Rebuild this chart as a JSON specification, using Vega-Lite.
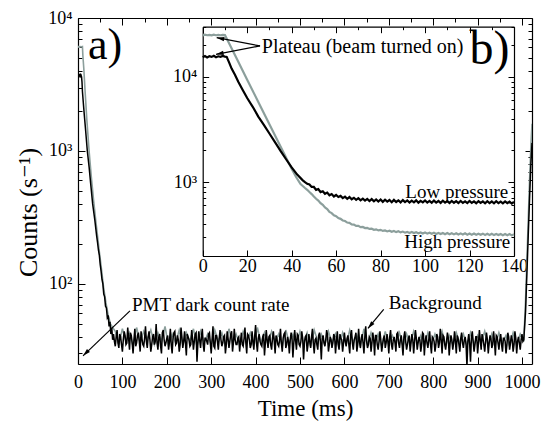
{
"$schema":"https://vega.github.io/schema/vega-lite/v6.json",
"width":454,"height":346,
"autosize":"none",
"padding":{"left":78,"top":18,"right":12,"bottom":60},
"background":"white",
"config":{"view":{"stroke":null},"font":"Liberation Serif, Times New Roman, Times, DejaVu Serif, serif",
"axis":{"labelFont":"Liberation Serif, Times New Roman, Times, DejaVu Serif, serif","titleFont":"Liberation Serif, Times New Roman, Times, DejaVu Serif, serif","labelFontSize":18,"titleFontSize":23,"labelColor":"black","titleColor":"black","titleFontWeight":"normal","domainColor":"black","tickColor":"black","domainWidth":1.2,"tickWidth":1,"grid":false,"labelFlush":false,"labelOverlap":false,"labelBound":false,"zindex":1},
"text":{"font":"Liberation Serif, Times New Roman, Times, DejaVu Serif, serif","color":"black"}},
"datasets":{
"mainH":[{"t":0,"c":6000},{"t":2,"c":6100},{"t":4,"c":6050},{"t":6,"c":6100},{"t":8,"c":6080},{"t":10,"c":6100},{"t":11,"c":5200},{"t":13,"c":4200},{"t":16,"c":2800},{"t":20,"c":1700},{"t":25,"c":1000},{"t":30,"c":640},{"t":35,"c":430},{"t":40,"c":300},{"t":45,"c":215},{"t":48,"c":175},{"t":50,"c":155},{"t":53,"c":128},{"t":55,"c":112},{"t":58,"c":92},{"t":60,"c":84},{"t":63,"c":72},{"t":65,"c":66},{"t":68,"c":58},{"t":70,"c":55},{"t":73,"c":50},{"t":75,"c":49},{"t":78,"c":47},
{"t":84,"c":44},{"t":92,"c":35},{"t":100,"c":46},{"t":108,"c":37},{"t":116,"c":43},{"t":124,"c":34},{"t":132,"c":47},{"t":140,"c":36},{"t":148,"c":44},{"t":156,"c":38},
{"t":164,"c":45},{"t":172,"c":35},{"t":180,"c":43},{"t":188,"c":37},{"t":196,"c":48},{"t":204,"c":34},{"t":212,"c":42},{"t":220,"c":36},{"t":228,"c":45},{"t":236,"c":35},
{"t":244,"c":43},{"t":252,"c":37},{"t":260,"c":46},{"t":268,"c":34},{"t":276,"c":44},{"t":284,"c":36},{"t":292,"c":42},{"t":300,"c":35},{"t":308,"c":45},{"t":316,"c":37},
{"t":324,"c":43},{"t":332,"c":34},{"t":340,"c":46},{"t":348,"c":36},{"t":356,"c":42},{"t":364,"c":35},{"t":372,"c":44},{"t":380,"c":37},{"t":388,"c":43},{"t":396,"c":34},
{"t":404,"c":47},{"t":412,"c":36},{"t":420,"c":43},{"t":428,"c":35},{"t":436,"c":44},{"t":444,"c":37},{"t":452,"c":42},{"t":460,"c":34},{"t":468,"c":45},{"t":476,"c":36},
{"t":484,"c":42},{"t":492,"c":35},{"t":500,"c":44},{"t":508,"c":36},{"t":516,"c":43},{"t":524,"c":34},{"t":532,"c":45},{"t":540,"c":37},{"t":548,"c":42},{"t":556,"c":35},
{"t":564,"c":44},{"t":572,"c":36},{"t":580,"c":42},{"t":588,"c":34},{"t":596,"c":43},{"t":604,"c":35},{"t":612,"c":45},{"t":620,"c":36},{"t":628,"c":41},{"t":636,"c":34},
{"t":644,"c":46},{"t":652,"c":35},{"t":660,"c":43},{"t":668,"c":36},{"t":676,"c":42},{"t":684,"c":34},{"t":692,"c":44},{"t":700,"c":35},{"t":708,"c":41},{"t":716,"c":36},
{"t":724,"c":43},{"t":732,"c":34},{"t":740,"c":42},{"t":748,"c":35},{"t":756,"c":44},{"t":764,"c":36},{"t":772,"c":41},{"t":780,"c":34},{"t":788,"c":43},{"t":796,"c":35},
{"t":804,"c":42},{"t":812,"c":36},{"t":820,"c":44},{"t":828,"c":34},{"t":836,"c":41},{"t":844,"c":35},{"t":852,"c":43},{"t":860,"c":36},{"t":868,"c":42},{"t":876,"c":34},
{"t":884,"c":43},{"t":892,"c":35},{"t":900,"c":41},{"t":908,"c":36},{"t":916,"c":44},{"t":924,"c":34},{"t":932,"c":42},{"t":940,"c":35},{"t":948,"c":43},{"t":956,"c":36},
{"t":964,"c":41},{"t":972,"c":34},{"t":980,"c":43},{"t":988,"c":35},{"t":996,"c":42},{"t":1004,"c":37},
{"t":1008,"c":75},{"t":1011,"c":150},{"t":1014,"c":300},{"t":1017,"c":600},{"t":1020,"c":1100},{"t":1022.5,"c":1600}],
"mainL":[{"t":0,"c":3450},{"t":1,"c":3700},{"t":2,"c":3650},{"t":3,"c":3800},{"t":4,"c":3700},{"t":5,"c":3750},{"t":6,"c":3650},{"t":7,"c":3700},{"t":8,"c":3600},{"t":9,"c":3300},{"t":10,"c":2800},{"t":12,"c":2300},{"t":14,"c":1900},{"t":17,"c":1450},{"t":21,"c":1000},{"t":25,"c":760},{"t":28.5,"c":570},{"t":33,"c":400},{"t":38,"c":300},{"t":42,"c":230},{"t":44,"c":205},{"t":46,"c":180},{"t":48,"c":165},{"t":50,"c":140},{"t":52,"c":125},{"t":54,"c":108},{"t":56,"c":100},{"t":58,"c":84},{"t":60,"c":80},{"t":62,"c":68},{"t":64,"c":66},{"t":66,"c":56},{"t":68,"c":58},{"t":70,"c":48},{"t":72,"c":52},{"t":74,"c":42},{"t":76,"c":47},{"t":78,"c":38},
{"t":80,"c":42},{"t":84,"c":34},{"t":88,"c":45},{"t":92,"c":33},{"t":96,"c":40},{"t":100,"c":31},{"t":104,"c":44},{"t":108,"c":35},{"t":112,"c":47},{"t":116,"c":32},
{"t":120,"c":41},{"t":124,"c":30},{"t":128,"c":46},{"t":132,"c":36},{"t":136,"c":43},{"t":140,"c":31},{"t":144,"c":39},{"t":148,"c":34},{"t":152,"c":48},{"t":156,"c":33},
{"t":160,"c":44},{"t":164,"c":31},{"t":168,"c":40},{"t":172,"c":35},{"t":176,"c":50},{"t":180,"c":32},{"t":184,"c":42},{"t":188,"c":30},{"t":192,"c":45},{"t":196,"c":34},
{"t":200,"c":39},{"t":204,"c":32},{"t":208,"c":46},{"t":212,"c":30},{"t":216,"c":43},{"t":220,"c":35},{"t":224,"c":41},{"t":228,"c":31},{"t":232,"c":47},{"t":236,"c":33},
{"t":240,"c":44},{"t":244,"c":29},{"t":248,"c":40},{"t":252,"c":34},{"t":256,"c":45},{"t":260,"c":32},{"t":264,"c":42},{"t":268,"c":26},{"t":272,"c":44},{"t":276,"c":33},
{"t":280,"c":46},{"t":284,"c":31},{"t":288,"c":39},{"t":292,"c":35},{"t":296,"c":43},{"t":300,"c":30},{"t":304,"c":48},{"t":308,"c":33},{"t":312,"c":41},{"t":316,"c":32},
{"t":320,"c":45},{"t":324,"c":34},{"t":328,"c":40},{"t":332,"c":30},{"t":336,"c":44},{"t":340,"c":33},{"t":344,"c":42},{"t":348,"c":31},{"t":352,"c":46},{"t":356,"c":35},
{"t":360,"c":39},{"t":364,"c":31},{"t":368,"c":43},{"t":372,"c":34},{"t":376,"c":47},{"t":380,"c":30},{"t":384,"c":41},{"t":388,"c":33},{"t":392,"c":44},{"t":396,"c":32},
{"t":400,"c":49},{"t":404,"c":31},{"t":408,"c":42},{"t":412,"c":35},{"t":416,"c":40},{"t":420,"c":29},{"t":424,"c":45},{"t":428,"c":33},{"t":432,"c":41},{"t":436,"c":32},
{"t":440,"c":44},{"t":444,"c":30},{"t":448,"c":39},{"t":452,"c":34},{"t":456,"c":46},{"t":460,"c":31},{"t":464,"c":42},{"t":468,"c":33},{"t":472,"c":40},{"t":476,"c":30},
{"t":480,"c":43},{"t":484,"c":28},{"t":488,"c":45},{"t":492,"c":32},{"t":496,"c":41},{"t":500,"c":34},{"t":504,"c":44},{"t":508,"c":27},{"t":512,"c":40},{"t":516,"c":31},
{"t":520,"c":42},{"t":524,"c":33},{"t":528,"c":46},{"t":532,"c":30},{"t":536,"c":39},{"t":540,"c":32},{"t":544,"c":43},{"t":548,"c":27},{"t":552,"c":41},{"t":556,"c":34},
{"t":560,"c":45},{"t":564,"c":31},{"t":568,"c":40},{"t":572,"c":33},{"t":576,"c":42},{"t":580,"c":30},{"t":584,"c":44},{"t":588,"c":32},{"t":592,"c":39},{"t":596,"c":31},
{"t":600,"c":43},{"t":604,"c":34},{"t":608,"c":41},{"t":612,"c":30},{"t":616,"c":45},{"t":620,"c":32},{"t":624,"c":40},{"t":628,"c":31},{"t":632,"c":46},{"t":636,"c":33},
{"t":640,"c":42},{"t":644,"c":30},{"t":648,"c":48},{"t":652,"c":33},{"t":656,"c":40},{"t":660,"c":31},{"t":664,"c":43},{"t":668,"c":29},{"t":672,"c":41},{"t":676,"c":32},
{"t":680,"c":44},{"t":684,"c":31},{"t":688,"c":39},{"t":692,"c":33},{"t":696,"c":42},{"t":700,"c":30},{"t":704,"c":45},{"t":708,"c":32},{"t":712,"c":40},{"t":716,"c":31},
{"t":720,"c":43},{"t":724,"c":33},{"t":728,"c":41},{"t":732,"c":29},{"t":736,"c":44},{"t":740,"c":32},{"t":744,"c":39},{"t":748,"c":31},{"t":752,"c":42},{"t":756,"c":30},
{"t":760,"c":45},{"t":764,"c":32},{"t":768,"c":40},{"t":772,"c":31},{"t":776,"c":43},{"t":780,"c":29},{"t":784,"c":41},{"t":788,"c":33},{"t":792,"c":44},{"t":796,"c":30},
{"t":800,"c":39},{"t":804,"c":31},{"t":808,"c":42},{"t":812,"c":33},{"t":816,"c":46},{"t":820,"c":30},{"t":824,"c":40},{"t":828,"c":32},{"t":832,"c":43},{"t":836,"c":29},
{"t":840,"c":41},{"t":844,"c":32},{"t":848,"c":44},{"t":852,"c":30},{"t":856,"c":39},{"t":860,"c":31},{"t":864,"c":43},{"t":868,"c":33},{"t":872,"c":40},{"t":876,"c":24},
{"t":880,"c":42},{"t":884,"c":26},{"t":888,"c":44},{"t":892,"c":31},{"t":896,"c":40},{"t":900,"c":30},{"t":904,"c":45},{"t":908,"c":32},{"t":912,"c":39},{"t":916,"c":31},
{"t":920,"c":43},{"t":924,"c":30},{"t":928,"c":41},{"t":932,"c":33},{"t":936,"c":44},{"t":940,"c":29},{"t":944,"c":40},{"t":948,"c":32},{"t":952,"c":42},{"t":956,"c":31},
{"t":960,"c":39},{"t":964,"c":30},{"t":968,"c":43},{"t":972,"c":32},{"t":976,"c":41},{"t":980,"c":31},{"t":984,"c":44},{"t":988,"c":30},{"t":992,"c":40},{"t":996,"c":32},
{"t":1000,"c":42},{"t":1004,"c":38},
{"t":1008,"c":62},{"t":1011,"c":120},{"t":1014,"c":230},{"t":1017,"c":440},{"t":1020,"c":800},{"t":1022.5,"c":1150},
{"t":82,"c":37},{"t":86,"c":40},{"t":90,"c":36},{"t":94,"c":42},{"t":98,"c":35},{"t":102,"c":38},{"t":106,"c":41},{"t":110,"c":36},{"t":114,"c":39},{"t":118,"c":43},
{"t":122,"c":36},{"t":126,"c":38},{"t":130,"c":34},{"t":134,"c":41},{"t":138,"c":37},{"t":142,"c":44},{"t":146,"c":35},{"t":150,"c":39},{"t":154,"c":37},{"t":158,"c":40},
{"t":162,"c":38},{"t":166,"c":35},{"t":170,"c":42},{"t":174,"c":37},{"t":178,"c":36},{"t":182,"c":40},{"t":186,"c":34},{"t":190,"c":43},{"t":194,"c":38},{"t":198,"c":36},
{"t":202,"c":41},{"t":206,"c":37},{"t":210,"c":35},{"t":214,"c":39},{"t":218,"c":44},{"t":222,"c":36},{"t":226,"c":38},{"t":230,"c":35},{"t":234,"c":40},{"t":238,"c":37},
{"t":242,"c":36},{"t":246,"c":42},{"t":250,"c":38},{"t":254,"c":35},{"t":258,"c":39},{"t":262,"c":37},{"t":266,"c":43},{"t":270,"c":36},{"t":274,"c":38},{"t":278,"c":40},
{"t":282,"c":35},{"t":286,"c":39},{"t":290,"c":37},{"t":294,"c":42},{"t":298,"c":36},{"t":302,"c":38},{"t":306,"c":34},{"t":310,"c":41},{"t":314,"c":37},{"t":318,"c":39},
{"t":322,"c":38},{"t":326,"c":36},{"t":330,"c":41},{"t":334,"c":35},{"t":338,"c":39},{"t":342,"c":37},{"t":346,"c":44},{"t":350,"c":36},{"t":354,"c":38},{"t":358,"c":35},
{"t":362,"c":40},{"t":366,"c":37},{"t":370,"c":35},{"t":374,"c":39},{"t":378,"c":36},{"t":382,"c":42},{"t":386,"c":38},{"t":390,"c":35},{"t":394,"c":37},{"t":398,"c":41},
{"t":402,"c":36},{"t":406,"c":39},{"t":410,"c":37},{"t":414,"c":34},{"t":418,"c":42},{"t":422,"c":36},{"t":426,"c":38},{"t":430,"c":40},{"t":434,"c":35},{"t":438,"c":39},
{"t":442,"c":37},{"t":446,"c":41},{"t":450,"c":35},{"t":454,"c":38},{"t":458,"c":36},{"t":462,"c":39},{"t":466,"c":43},{"t":470,"c":35},{"t":474,"c":37},{"t":478,"c":38},
{"t":482,"c":39},{"t":486,"c":36},{"t":490,"c":38},{"t":494,"c":42},{"t":498,"c":35},{"t":502,"c":37},{"t":506,"c":39},{"t":510,"c":36},{"t":514,"c":41},{"t":518,"c":35},
{"t":522,"c":37},{"t":526,"c":40},{"t":530,"c":36},{"t":534,"c":38},{"t":538,"c":35},{"t":542,"c":41},{"t":546,"c":37},{"t":550,"c":39},{"t":554,"c":36},{"t":558,"c":38},
{"t":562,"c":41},{"t":566,"c":35},{"t":570,"c":38},{"t":574,"c":36},{"t":578,"c":40},{"t":582,"c":37},{"t":586,"c":35},{"t":590,"c":42},{"t":594,"c":38},{"t":598,"c":36},
{"t":602,"c":37},{"t":606,"c":39},{"t":610,"c":35},{"t":614,"c":41},{"t":618,"c":36},{"t":622,"c":38},{"t":626,"c":43},{"t":630,"c":35},{"t":634,"c":37},{"t":638,"c":39},
{"t":642,"c":36},{"t":646,"c":40},{"t":650,"c":37},{"t":654,"c":35},{"t":658,"c":39},{"t":662,"c":36},{"t":666,"c":38},{"t":670,"c":41},{"t":674,"c":35},{"t":678,"c":37},
{"t":682,"c":38},{"t":686,"c":35},{"t":690,"c":41},{"t":694,"c":36},{"t":698,"c":37},{"t":702,"c":40},{"t":706,"c":35},{"t":710,"c":38},{"t":714,"c":36},{"t":718,"c":42},
{"t":722,"c":36},{"t":726,"c":38},{"t":730,"c":35},{"t":734,"c":40},{"t":738,"c":37},{"t":742,"c":35},{"t":746,"c":41},{"t":750,"c":36},{"t":754,"c":38},{"t":758,"c":37},
{"t":762,"c":39},{"t":766,"c":36},{"t":770,"c":38},{"t":774,"c":35},{"t":778,"c":42},{"t":782,"c":37},{"t":786,"c":36},{"t":790,"c":38},{"t":794,"c":35},{"t":798,"c":40},
{"t":802,"c":37},{"t":806,"c":35},{"t":810,"c":40},{"t":814,"c":36},{"t":818,"c":38},{"t":822,"c":41},{"t":826,"c":35},{"t":830,"c":37},{"t":834,"c":39},{"t":838,"c":36},
{"t":842,"c":38},{"t":846,"c":36},{"t":850,"c":37},{"t":854,"c":41},{"t":858,"c":35},{"t":862,"c":39},{"t":866,"c":36},{"t":870,"c":38},{"t":874,"c":35},{"t":878,"c":37},
{"t":882,"c":36},{"t":886,"c":39},{"t":890,"c":37},{"t":894,"c":35},{"t":898,"c":40},{"t":902,"c":36},{"t":906,"c":38},{"t":910,"c":42},{"t":914,"c":35},{"t":918,"c":37},
{"t":922,"c":38},{"t":926,"c":36},{"t":930,"c":39},{"t":934,"c":35},{"t":938,"c":37},{"t":942,"c":41},{"t":946,"c":36},{"t":950,"c":38},{"t":954,"c":35},{"t":958,"c":39},
{"t":962,"c":37},{"t":966,"c":35},{"t":970,"c":40},{"t":974,"c":36},{"t":978,"c":38},{"t":982,"c":35},{"t":986,"c":39},{"t":990,"c":37},{"t":994,"c":36},{"t":998,"c":38},
{"t":1002,"c":37}],
"insetH":[{"t":0,"c":24800},{"t":1,"c":25200},{"t":2,"c":24900},{"t":3,"c":25100},{"t":4,"c":24800},{"t":5,"c":25200},{"t":6,"c":24900},{"t":7,"c":25100},{"t":8,"c":24900},{"t":9,"c":25100},{"t":10,"c":25000},{"t":15,"c":15350},{"t":20,"c":9420},{"t":25,"c":5780},{"t":30,"c":3550},{"t":35,"c":2180},{"t":40,"c":1340},{"t":42,"c":1120},{"t":44,"c":960},{"t":45,"c":920},{"t":46,"c":880},{"t":47,"c":845},{"t":48,"c":805},{"t":49,"c":770},{"t":50,"c":730},{"t":51,"c":695},{"t":52,"c":668},{"t":53,"c":632},{"t":54,"c":608},{"t":55,"c":575},{"t":56,"c":556},{"t":57,"c":522},{"t":58,"c":508},{"t":59,"c":485},{"t":60,"c":475},{"t":61,"c":456},{"t":62,"c":448},{"t":63,"c":432},{"t":64,"c":427},{"t":65,"c":413},{"t":66,"c":410},{"t":67,"c":397},{"t":68,"c":395},{"t":69,"c":384},{"t":70,"c":384},{"t":71,"c":374},{"t":72,"c":375},{"t":73,"c":366},{"t":74,"c":367},{"t":75,"c":359},{"t":76,"c":361},{"t":77,"c":353},{"t":78,"c":356},{"t":79,"c":348},{"t":80,"c":352},{"t":81,"c":344},{"t":82,"c":348},{"t":83,"c":340},{"t":84,"c":345},{"t":85,"c":337},{"t":86,"c":343},{"t":87,"c":335},{"t":88,"c":341},{"t":89,"c":333},{"t":90,"c":339},{"t":91,"c":331},{"t":92,"c":337},{"t":93,"c":329},{"t":94,"c":336},{"t":95,"c":328},{"t":96,"c":334},{"t":97,"c":327},{"t":98,"c":333},{"t":99,"c":325},{"t":100,"c":332},{"t":101,"c":324},{"t":102,"c":331},{"t":103,"c":323},{"t":104,"c":330},{"t":105,"c":322},{"t":106,"c":329},{"t":107,"c":321},{"t":108,"c":329},{"t":109,"c":320},{"t":110,"c":328},{"t":111,"c":320},{"t":112,"c":327},{"t":113,"c":319},{"t":114,"c":327},{"t":115,"c":318},{"t":116,"c":326},{"t":117,"c":318},{"t":118,"c":326},{"t":119,"c":317},{"t":120,"c":325},{"t":121,"c":317},{"t":122,"c":325},{"t":123,"c":316},{"t":124,"c":324},{"t":125,"c":316},{"t":126,"c":324},{"t":127,"c":315},{"t":128,"c":323},{"t":129,"c":315},{"t":130,"c":323},{"t":131,"c":314},{"t":132,"c":322},{"t":133,"c":314},{"t":134,"c":322},{"t":135,"c":313},{"t":136,"c":321},{"t":137,"c":313},{"t":138,"c":321},{"t":139,"c":312},{"t":140,"c":319}],
"insetL":[{"t":0,"c":15400},{"t":1,"c":15800},{"t":2,"c":15300},{"t":3,"c":15700},{"t":4,"c":15500},{"t":5,"c":15900},{"t":6,"c":15400},{"t":7,"c":15700},{"t":8,"c":15500},{"t":9,"c":15800},{"t":10,"c":15600},{"t":10.8,"c":15500},{"t":12,"c":13500},{"t":13,"c":12000},{"t":14.5,"c":10500},{"t":16,"c":9000},{"t":18,"c":7500},{"t":20,"c":6300},{"t":22.5,"c":5200},{"t":25,"c":4200},{"t":27.5,"c":3500},{"t":30,"c":2900},{"t":32.5,"c":2400},{"t":35,"c":1980},{"t":37.5,"c":1650},{"t":40,"c":1380},{"t":42.5,"c":1180},{"t":45,"c":1040},
{"t":46,"c":1000},{"t":47,"c":965},{"t":48,"c":950},{"t":49,"c":900},{"t":50,"c":900},{"t":51,"c":845},{"t":52,"c":860},{"t":53,"c":805},{"t":54,"c":820},{"t":55,"c":775},{"t":56,"c":795},{"t":57,"c":750},{"t":58,"c":770},{"t":59,"c":730},{"t":60,"c":755},{"t":61,"c":722},{"t":62,"c":740},{"t":63,"c":705},{"t":64,"c":728},{"t":65,"c":695},{"t":66,"c":722},{"t":67,"c":688},{"t":68,"c":710},{"t":69,"c":680},{"t":70,"c":705},{"t":71,"c":672},{"t":72,"c":698},{"t":73,"c":668},{"t":74,"c":694},{"t":75,"c":662},{"t":76,"c":690},{"t":77,"c":658},{"t":78,"c":686},{"t":79,"c":655},{"t":80,"c":684},{"t":81,"c":650},{"t":82,"c":680},{"t":83,"c":652},{"t":84,"c":676},{"t":85,"c":645},{"t":86,"c":678},{"t":87,"c":648},{"t":88,"c":672},{"t":89,"c":642},{"t":90,"c":675},{"t":91,"c":646},{"t":92,"c":670},{"t":93,"c":640},{"t":94,"c":668},{"t":95,"c":644},{"t":96,"c":672},{"t":97,"c":638},{"t":98,"c":665},{"t":99,"c":642},{"t":100,"c":670},{"t":101,"c":640},{"t":102,"c":664},{"t":103,"c":636},{"t":104,"c":668},{"t":105,"c":640},{"t":106,"c":662},{"t":107,"c":635},{"t":108,"c":666},{"t":109,"c":638},{"t":110,"c":660},{"t":111,"c":634},{"t":112,"c":664},{"t":113,"c":637},{"t":114,"c":660},{"t":115,"c":632},{"t":116,"c":662},{"t":117,"c":636},{"t":118,"c":658},{"t":119,"c":633},{"t":120,"c":663},{"t":121,"c":635},{"t":122,"c":657},{"t":123,"c":631},{"t":124,"c":660},{"t":125,"c":634},{"t":126,"c":656},{"t":127,"c":630},{"t":128,"c":659},{"t":129,"c":633},{"t":130,"c":655},{"t":131,"c":629},{"t":132,"c":658},{"t":133,"c":632},{"t":134,"c":654},{"t":135,"c":628},{"t":136,"c":657},{"t":137,"c":631},{"t":138,"c":653},{"t":139,"c":627},{"t":140,"c":650}],
"mainArrows":[{"t":117,"c":62.7,"g":1},{"t":11.3,"c":28.8,"g":1},{"t":688.5,"c":64.4,"g":2},{"t":653,"c":46.3,"g":2}],
"mainHeads":[{"t":11.3,"c":28.8,"a":226},{"t":653,"c":46.3,"a":220}],
"mainText":[{"t":22.5,"c":4890,"s":"a)","z":44},{"t":121.6,"c":62.7,"s":"PMT dark count rate","z":19},{"t":700,"c":64.4,"s":"Background","z":19}],
"insetArrows":[{"t":25.8,"c":19700,"g":1},{"t":6.3,"c":23600,"g":1},{"t":25.8,"c":19700,"g":2},{"t":6.0,"c":16400,"g":2}],
"insetHeads":[{"t":6.3,"c":23600,"a":281},{"t":6.0,"c":16400,"a":259}],
"insetText":[{"t":138,"c":13200,"s":"b)","z":48},{"t":137.4,"c":710,"s":"Low pressure","z":19},{"t":138.3,"c":237,"s":"High pressure","z":19}]
},
"layer":[
{"mark":{"type":"rule","strokeDash":[4,3],"color":"#555555","strokeWidth":1},
 "encoding":{
  "x":{"datum":0,"type":"quantitative","scale":{"domain":[0,1022.5],"nice":false},"axis":{"orient":"top","values":[0,50,100,150,200,250,300,350,400,450,500,550,600,650,700,750,800,850,900,950,1000],"labels":false,"title":null,"tickSize":{"condition":{"test":"datum.value % 100 === 0","value":-7},"value":-4}}},
  "x2":{"datum":1022.5},
  "y":{"datum":30,"type":"quantitative","scale":{"type":"log","domain":[25,10000],"nice":false},"axis":{"orient":"right","values":[30,40,50,60,70,80,90,100,200,300,400,500,600,700,800,900,1000,2000,3000,4000,5000,6000,7000,8000,9000,10000],"labels":false,"title":null,"tickSize":{"condition":{"test":"datum.value === 100 || datum.value === 1000 || datum.value === 10000","value":-7},"value":-4}}}
 }},
{"layer":[
 {"data":{"name":"mainH"},"mark":{"type":"line","color":"#8c9f9c","strokeWidth":1.6,"clip":true},
  "encoding":{
   "x":{"field":"t","type":"quantitative","scale":{"domain":[0,1022.5],"nice":false},"axis":{"orient":"bottom","values":[0,50,100,150,200,250,300,350,400,450,500,550,600,650,700,750,800,850,900,950,1000],"format":"d","labelExpr":"datum.value % 100 === 0 ? datum.label : ''","tickSize":{"condition":{"test":"datum.value % 100 === 0","value":-7},"value":-4},"labelPadding":16,"title":"Time (ms)","titleY":51,"titleBaseline":"alphabetic"}},
   "y":{"field":"c","type":"quantitative","scale":{"type":"log","domain":[25,10000],"nice":false},"axis":{"orient":"left","values":[30,40,50,60,70,80,90,100,200,300,400,500,600,700,800,900,1000,2000,3000,4000,5000,6000,7000,8000,9000,10000],"labelExpr":"datum.value === 100 ? '10²' : datum.value === 1000 ? '10³' : datum.value === 10000 ? '10⁴' : ''","tickSize":{"condition":{"test":"datum.value === 100 || datum.value === 1000 || datum.value === 10000","value":-7},"value":-4},"labelPadding":13,"title":"Counts (s⁻¹)","titleFontSize":26,"titleX":-42,"titleY":194,"titleBaseline":"alphabetic"}}
  }},
 {"data":{"name":"mainL"},"mark":{"type":"line","color":"black","strokeWidth":1.5,"clip":true},
  "encoding":{"x":{"field":"t","type":"quantitative"},"y":{"field":"c","type":"quantitative"}}},
 {"data":{"name":"mainArrows"},"mark":{"type":"line","color":"black","strokeWidth":1.2},
  "encoding":{"x":{"field":"t","type":"quantitative"},"y":{"field":"c","type":"quantitative"},"detail":{"field":"g","type":"nominal"}}},
 {"data":{"name":"mainHeads"},"mark":{"type":"point","shape":"M0,0L0.45,1.6L-0.45,1.6Z","filled":true,"color":"black","size":90,"opacity":1},
  "encoding":{"x":{"field":"t","type":"quantitative"},"y":{"field":"c","type":"quantitative"},"angle":{"field":"a","type":"quantitative","scale":null}}},
 {"data":{"name":"mainText"},"mark":{"type":"text","align":"left","baseline":"alphabetic"},
  "encoding":{"x":{"field":"t","type":"quantitative"},"y":{"field":"c","type":"quantitative"},"text":{"field":"s"},"size":{"field":"z","type":"quantitative","scale":null}}}
]},
{"layer":[
 {"data":{"name":"insetH"},"mark":{"type":"line","color":"#8c9f9c","strokeWidth":2.2},
  "encoding":{
   "x":{"field":"t","type":"quantitative","scale":{"domain":[0,140],"range":[124.7,436],"nice":false},"axis":{"orient":"bottom","offset":-108,"values":[0,10,20,30,40,50,60,70,80,90,100,110,120,130,140],"format":"d","labelExpr":"datum.value % 20 === 0 ? datum.label : ''","tickSize":{"condition":{"test":"datum.value % 20 === 0","value":-6},"value":-3},"labelPadding":7,"title":null}},
   "y":{"field":"c","type":"quantitative","scale":{"type":"log","domain":[200,30000],"range":[237.7,8.7],"nice":false},"axis":{"orient":"left","offset":-124.7,"values":[200,300,400,500,600,700,800,900,1000,2000,3000,4000,5000,6000,7000,8000,9000,10000,20000,30000],"labelExpr":"datum.value === 1000 ? '10³' : datum.value === 10000 ? '10⁴' : ''","tickSize":{"condition":{"test":"datum.value === 1000 || datum.value === 10000","value":-6},"value":-3},"labelPadding":12,"title":null}}
  }},
 {"data":{"name":"insetL"},"mark":{"type":"line","color":"black","strokeWidth":2.2},
  "encoding":{"x":{"field":"t","type":"quantitative"},"y":{"field":"c","type":"quantitative"}}},
 {"data":{"name":"insetArrows"},"mark":{"type":"line","color":"black","strokeWidth":1.2},
  "encoding":{"x":{"field":"t","type":"quantitative"},"y":{"field":"c","type":"quantitative"},"detail":{"field":"g","type":"nominal"}}},
 {"data":{"name":"insetHeads"},"mark":{"type":"point","shape":"M0,0L0.45,1.6L-0.45,1.6Z","filled":true,"color":"black","size":90,"opacity":1},
  "encoding":{"x":{"field":"t","type":"quantitative"},"y":{"field":"c","type":"quantitative"},"angle":{"field":"a","type":"quantitative","scale":null}}},
 {"data":{"values":[{"t":26.6,"c":17000,"s":"Plateau (beam turned on)"}]},"mark":{"type":"text","align":"left","baseline":"alphabetic","fontSize":20},
  "encoding":{"x":{"field":"t","type":"quantitative"},"y":{"field":"c","type":"quantitative"},"text":{"field":"s"}}}
]},
{"data":{"name":"insetText"},"mark":{"type":"text","align":"right","baseline":"alphabetic"},
 "encoding":{
  "x":{"field":"t","type":"quantitative","scale":{"domain":[0,140],"range":[124.7,436],"nice":false},"axis":{"orient":"top","offset":-8.7,"values":[0,10,20,30,40,50,60,70,80,90,100,110,120,130,140],"labels":false,"title":null,"tickSize":{"condition":{"test":"datum.value % 20 === 0","value":-6},"value":-3}}},
  "y":{"field":"c","type":"quantitative","scale":{"type":"log","domain":[200,30000],"range":[237.7,8.7],"nice":false},"axis":{"orient":"right","offset":-18,"values":[200,300,400,500,600,700,800,900,1000,2000,3000,4000,5000,6000,7000,8000,9000,10000,20000,30000],"labels":false,"title":null,"tickSize":{"condition":{"test":"datum.value === 1000 || datum.value === 10000","value":-6},"value":-3}}},
  "text":{"field":"s"},
  "size":{"field":"z","type":"quantitative","scale":null}
 }}
],
"resolve":{"scale":{"x":"independent","y":"independent"}}
}
